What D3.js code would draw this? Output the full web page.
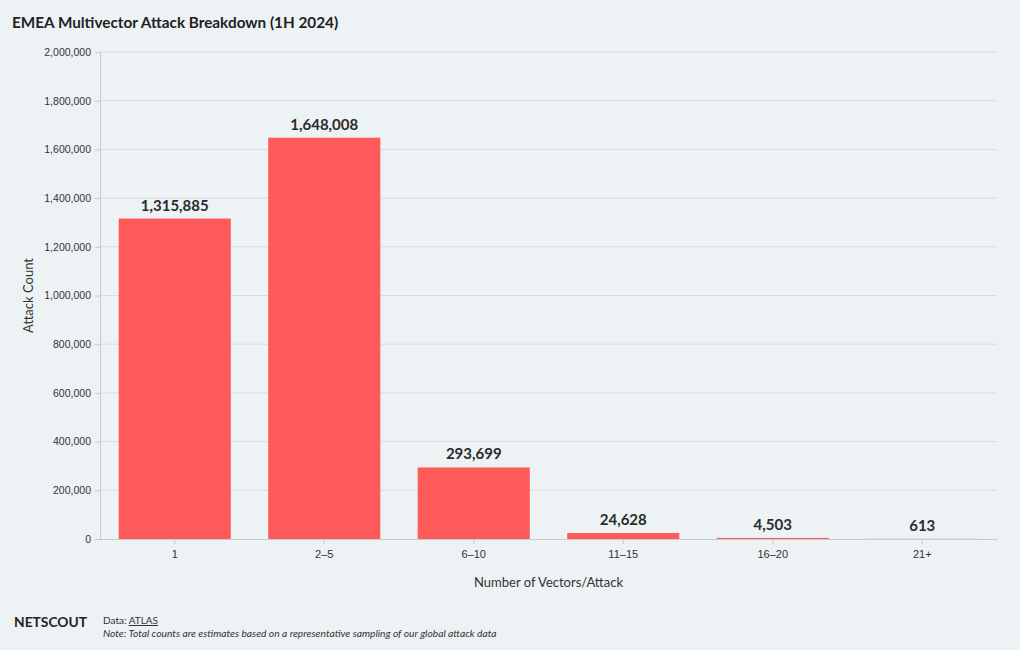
<!DOCTYPE html>
<html><head><meta charset="utf-8">
<script src="https://cdn.jsdelivr.net/npm/d3@7/dist/d3.min.js"></script>
<style>
html,body{margin:0;padding:0;background:#edf2f5;}
svg{display:block;font-family:"Source Sans Pro","Lato","Noto Sans",sans-serif;}
</style></head>
<body>
<svg id="chart" width="1020" height="650"></svg>
<script>
const categories = ["1","2–5","6–10","11–15","16–20","21+"];
const values = [1315885,1648008,293699,24628,4503,613];
const yTicks = [0,200000,400000,600000,800000,1000000,1200000,1400000,1600000,1800000,2000000];

const svg = d3.select("#chart");
const W=1020,H=650;
svg.append("rect").attr("width",W).attr("height",H).attr("fill","#edf2f5");
const m={left:100,right:23,top:52,bottom:111};
const x=d3.scaleBand().domain(categories).range([m.left,W-m.right]).paddingInner(0.25).paddingOuter(0.125);
const y=d3.scaleLinear().domain([0,2000000]).range([H-m.bottom,m.top]);
const fmt=d3.format(",");

// grid
svg.append("g").selectAll("line").data(yTicks.filter(d=>d>0)).join("line")
  .attr("x1",m.left).attr("x2",W-m.right).attr("y1",d=>y(d)).attr("y2",d=>y(d))
  .attr("stroke","#d9dcdf").attr("stroke-width",1);

// bars
svg.append("g").selectAll("rect").data(values).join("rect")
  .attr("x",(d,i)=>x(categories[i])).attr("width",x.bandwidth())
  .attr("y",d=>y(d)).attr("height",d=>y(0)-y(d)).attr("fill","#ff5a5a");

// value labels
svg.append("g").selectAll("text").data(values).join("text")
  .attr("x",(d,i)=>x(categories[i])+x.bandwidth()/2).attr("y",d=>y(d)-8)
  .attr("text-anchor","middle").attr("font-size",15).attr("font-weight","bold").attr("fill","#2b2b2b")
  .text(d=>fmt(d));

// y axis
const ya=svg.append("g").attr("transform",`translate(${m.left},0)`)
  .call(d3.axisLeft(y).tickValues(yTicks).tickFormat(fmt).tickSize(5).tickPadding(4));
ya.select(".domain").attr("stroke","#c8cbce");
ya.selectAll(".tick line").attr("stroke","#c8cbce");
ya.selectAll("text").attr("font-size",10.5).attr("fill","#333").attr("font-family","inherit");

// x axis
const xa=svg.append("g").attr("transform",`translate(0,${y(0)})`)
  .call(d3.axisBottom(x).tickSize(5).tickPadding(6).tickSizeOuter(0));
xa.select(".domain").attr("stroke","#c8cbce");
xa.selectAll(".tick line").attr("stroke","#c8cbce");
xa.selectAll("text").attr("font-size",11).attr("fill","#333").attr("font-family","inherit");

// titles
svg.append("text").attr("x",12).attr("y",28).attr("font-size",15.3).attr("font-weight","bold").attr("fill","#222")
  .text("EMEA Multivector Attack Breakdown (1H 2024)");
svg.append("text").attr("transform",`translate(33,${(y(0)+y(2000000))/2}) rotate(-90)`)
  .attr("text-anchor","middle").attr("font-size",13).attr("fill","#333").text("Attack Count");
svg.append("text").attr("x",(m.left+W-m.right)/2).attr("y",587).attr("text-anchor","middle")
  .attr("font-size",13).attr("fill","#333").text("Number of Vectors/Attack");

// footer
svg.append("text").attr("x",14).attr("y",627).attr("font-size",13.8).attr("font-weight","bold").attr("fill","#222").text("NETSCOUT");
const d=svg.append("text").attr("x",103).attr("y",624).attr("font-size",10).attr("fill","#333");
d.append("tspan").text("Data: ");
d.append("tspan").attr("text-decoration","underline").text("ATLAS");
svg.append("text").attr("x",103).attr("y",637).attr("font-size",10.25).attr("font-style","italic").attr("fill","#333")
  .text("Note: Total counts are estimates based on a representative sampling of our global attack data");
</script>
</body></html>
